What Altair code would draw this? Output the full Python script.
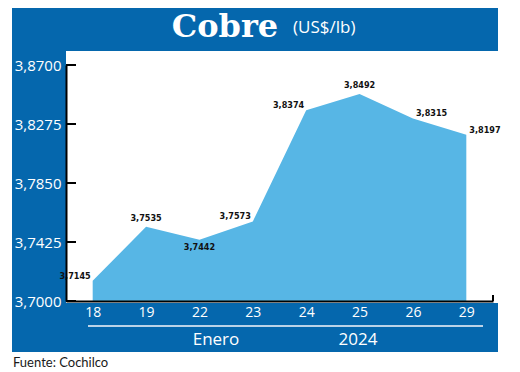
import altair as alt
import pandas as pd

# ---- data ----
days = ["18", "19", "22", "23", "24", "25", "26", "29"]
prices = [3.7145, 3.7535, 3.7442, 3.7573, 3.8374, 3.8492, 3.8315, 3.8197]
y_ticks = [3.70, 3.7425, 3.785, 3.8275, 3.87]
title_main = "Cobre"
title_unit = "(US$/lb)"
month_label = "Enero"
year_label = "2024"
source_label = "Fuente: Cochilco"

# label placement groups (by category)
left_labels = ["18", "23", "24"]
above_labels = ["19", "25"]
below_labels = ["22"]
right_labels = ["26", "29"]

BLUE = "#0567AD"
FILL = "#57B6E5"
SEP = "#BBD3E8"
LABEL_FONT = "DejaVu Sans Condensed, Liberation Sans Narrow, sans-serif"

W, H = 427, 236

df = pd.DataFrame({"day": days, "price": prices})
df["label"] = [f"{v:.4f}".replace(".", ",") for v in prices]
df["base"] = y_ticks[0]
tick_df = pd.DataFrame({"v": y_ticks})
one = pd.DataFrame({"a": [0]})

yscale = alt.Scale(domain=[3.70, 3.87], zero=False, nice=False)
xscale = alt.Scale(type="point", padding=0.5)

x_enc = alt.X("day:O", sort=days, scale=xscale,
              axis=alt.Axis(title=None, labelColor="white", labelFont="Open Sans",
                            labelFontSize=14, labelPadding=4, ticks=False,
                            labelAngle=0, domainColor="black", domainWidth=2,
                            zindex=1))
y_enc = alt.Y("price:Q", scale=yscale,
              axis=alt.Axis(title=None, values=y_ticks,
                            labelExpr="replace(format(datum.value, '.4f'), '.', ',')",
                            labelColor="white", labelFont="Open Sans", labelFontSize=15,
                            labelPadding=5, ticks=False, grid=False,
                            domainColor="black", domainWidth=2, zindex=1))

def rect(x, x2, y, y2, color):
    return alt.Chart(one).mark_rect(color=color).encode(
        x=alt.value(x), x2=alt.value(x2), y=alt.value(y), y2=alt.value(y2))

bg_title = rect(-54, 432, -57, -14, BLUE)
bg_left = rect(-54, 0, -14, 287, BLUE)
bg_bottom = rect(-54, 432, 238, 287, BLUE)

area = alt.Chart(df).mark_area(color=FILL, opacity=1, clip=True).encode(
    x=x_enc, y=y_enc, y2="base:Q")

ticks = alt.Chart(tick_df).mark_rule(color="black", strokeWidth=2).encode(
    x=alt.value(0), x2=alt.value(10),
    y=alt.Y("v:Q", scale=yscale))

end_tick = alt.Chart(one).mark_rule(color="black", strokeWidth=2).encode(
    x=alt.value(W), y=alt.value(H - 6), y2=alt.value(H))

def labels(group, align, dx, dy):
    return alt.Chart(df).transform_filter(
        alt.FieldOneOfPredicate(field="day", oneOf=group)
    ).mark_text(font=LABEL_FONT, fontSize=9, fontWeight="bold", color="#111111",
                align=align, baseline="middle", dx=dx, dy=dy).encode(
        x=alt.X("day:O", sort=days, scale=xscale),
        y=alt.Y("price:Q", scale=yscale),
        text="label:N")

lab_left = labels(left_labels, "right", -2, -5)
lab_above = labels(above_labels, "center", 0, -9)
lab_below = labels(below_labels, "center", 0, 7)
lab_right = labels(right_labels, "left", 3, -5)

def txt(s, x, y, size, font, color, align="left", weight="normal"):
    return alt.Chart(one).mark_text(text=s, font=font, fontSize=size, color=color,
                                    align=align, baseline="alphabetic",
                                    fontWeight=weight).encode(
        x=alt.value(x), y=alt.value(y))

t_main = txt(title_main, 159, -28, 32, "DejaVu Serif", "white", "center", "bold")
t_unit = txt(title_unit, 227, -32, 17, "Open Sans", "white", "left")
sep = alt.Chart(one).mark_rule(color=SEP, strokeWidth=2).encode(
    x=alt.value(22), x2=alt.value(417), y=alt.value(261))
t_month = txt(month_label, 150, 280, 17, "Open Sans", "white", "center")
t_year = txt(year_label, 292, 280, 17, "Open Sans", "white", "center")
t_src = txt(source_label, -53, 302, 13, "Lato", "#1a1a1a", "left")

chart = alt.layer(
    area, bg_title, bg_left, bg_bottom, ticks, end_tick,
    lab_left, lab_above, lab_below, lab_right,
    t_main, t_unit, sep, t_month, t_year, t_src
).properties(
    width=W, height=H,
    autosize=alt.AutoSizeParams(type="none"),
    padding={"left": 58, "top": 57, "right": 19, "bottom": 71},
    background="white"
).configure_view(stroke=None)

chart.save("out.html", embed_options={"renderer": "svg", "actions": False})
